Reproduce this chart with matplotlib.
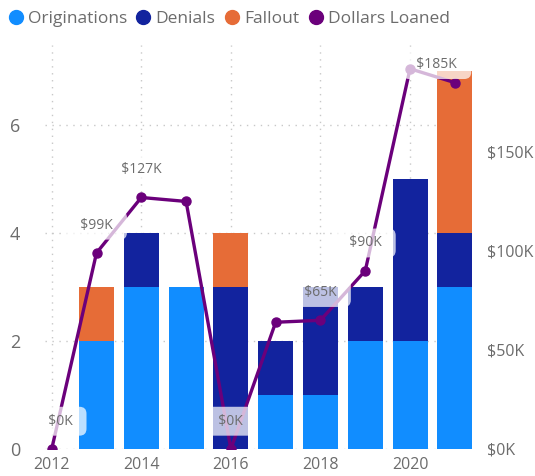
import matplotlib.pyplot as plt
from matplotlib.lines import Line2D
import numpy as np

plt.rcParams['font.family'] = ['Open Sans', 'DejaVu Sans']

# loan activity per year
bar_years = [2013, 2014, 2015, 2016, 2017, 2018, 2019, 2020, 2021]
originations = [2, 3, 3, 0, 1, 1, 2, 2, 3]
denials = [0, 1, 0, 3, 1, 2, 1, 3, 1]
fallout = [1, 0, 0, 1, 0, 0, 0, 0, 3]

line_years = [2012, 2013, 2014, 2015, 2016, 2017, 2018, 2019, 2020, 2021]
dollars_k = [0, 99, 127, 125, 0, 64, 65, 90, 192, 185]
labelled = [2012, 2013, 2014, 2016, 2018, 2019, 2021]

c_orig = '#118DFF'
c_den = '#12239E'
c_fall = '#E66C37'
c_line = '#6B007B'
txt = '#6c6c6c'

fig = plt.figure(figsize=(5.35, 4.76), dpi=100)
ax = fig.add_axes([45 / 535, 1 - 449 / 476, 430 / 535, 404 / 476])
ax2 = ax.twinx()

orig = np.array(originations)
den = np.array(denials)
fall = np.array(fallout)
w = 0.78
ax.bar(bar_years, orig, w, color=c_orig, zorder=2)
ax.bar(bar_years, den, w, bottom=orig, color=c_den, zorder=2)
ax.bar(bar_years, fall, w, bottom=orig + den, color=c_fall, zorder=2)

ax.set_xlim(2011.85, 2021.45)
ax.set_ylim(0, 7.48)
ax.set_yticks([0, 2, 4, 6])
ax.set_xticks([2012, 2014, 2016, 2018, 2020])
ax.grid(True, color='#c8c8c8', linestyle=(0, (1, 4)), linewidth=1, zorder=0)
ax.set_axisbelow(True)

ax2.plot(line_years, dollars_k, color=c_line, linewidth=2.4, marker='o',
         markersize=6.5, zorder=3)
ax2.set_ylim(0, 204)
ax2.set_yticks([0, 50, 100, 150])
ax2.set_yticklabels(['$0K', '$50K', '$100K', '$150K'])

# data labels sit above the points; the edge ones are nudged inside
nudge = {2012: (6, 20), 2021: (-13, 13)}
for yr, v in zip(line_years, dollars_k):
    if yr in labelled:
        dx, dy = nudge.get(yr, (0, 20))
        ax2.annotate(f'  ${v}K  ', (yr, v), xytext=(dx, dy),
                     textcoords='offset points', ha='center', va='center',
                     fontsize=10, color=txt, zorder=5,
                     bbox=dict(boxstyle='round,pad=0.5', fc='white',
                               ec='none', alpha=0.72))

for a in (ax, ax2):
    for s in a.spines.values():
        s.set_visible(False)
    a.tick_params(length=0, colors=txt, labelsize=11.5)
ax.tick_params(axis='y', labelsize=13, pad=18)
ax2.tick_params(axis='y', labelsize=11.5, pad=9)
ax.tick_params(axis='x', pad=6)

handles = [Line2D([], [], marker='o', linestyle='none', markersize=10, color=c)
           for c in (c_orig, c_den, c_fall, c_line)]
fig.legend(handles, ['Originations', 'Denials', 'Fallout', 'Dollars Loaned'],
           loc='upper left', bbox_to_anchor=(0.008, 0.985), ncol=4, frameon=False,
           handlelength=0.9, handletextpad=0.25, columnspacing=0.5,
           fontsize=12.5, labelcolor=txt, borderaxespad=0.0, borderpad=0.2)

fig.savefig('out.png', dpi=100)
